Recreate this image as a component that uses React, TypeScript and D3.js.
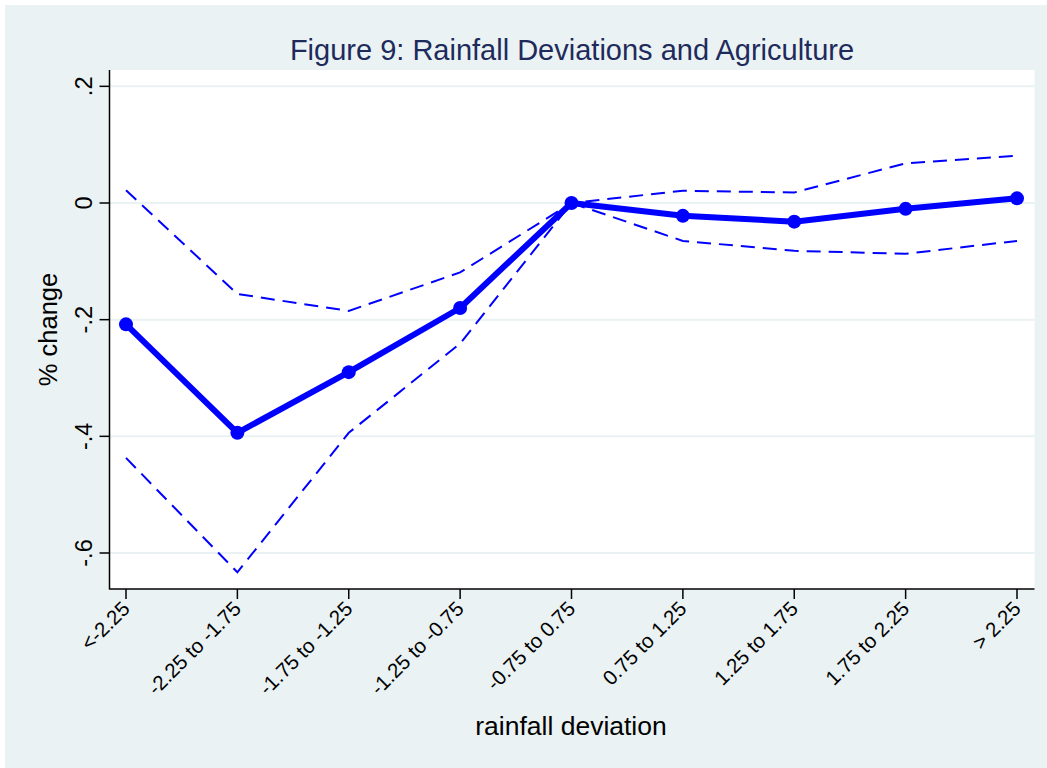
import React from "react";
import * as d3 from "d3";

const categories = [
  "<-2.25",
  "-2.25 to -1.75",
  "-1.75 to -1.25",
  "-1.25 to -0.75",
  "-0.75 to 0.75",
  "0.75 to 1.25",
  "1.25 to 1.75",
  "1.75 to 2.25",
  "> 2.25",
];
const estimate = [-0.208, -0.394, -0.29, -0.18, 0, -0.022, -0.032, -0.01, 0.008];
const upperCI = [0.022, -0.156, -0.185, -0.119, 0, 0.021, 0.018, 0.068, 0.081];
const lowerCI = [-0.437, -0.633, -0.394, -0.241, 0, -0.065, -0.082, -0.087, -0.065];
const yTicks = [0.2, 0, -0.2, -0.4, -0.6];
const yTickLabels = [".2", "0", "-.2", "-.4", "-.6"];

const W = 1047;
const H = 768;
const plot = { left: 109.5, right: 1034.5, top: 70, bottom: 589 };
const BLUE = "#0000ff";
const BG = "#eaf2f3";
const FONT = "'Liberation Sans', Arial, Helvetica, sans-serif";

export default function App() {
  const x = d3
    .scalePoint<number>()
    .domain(d3.range(categories.length))
    .range([126, 1017]);
  const y = d3.scaleLinear().domain([-0.6, 0]).range([553, 203]);
  const line = d3
    .line<number>()
    .x((_, i) => x(i) as number)
    .y((d) => y(d));

  return (
    <svg
      width={W}
      height={H}
      style={{ position: "absolute", left: 0, top: 0, display: "block" }}
    >
      <rect x={0} y={0} width={W} height={H} fill="#ffffff" />
      <rect x={5} y={5} width={W - 5} height={H - 5} fill={BG} />
      <rect
        x={plot.left}
        y={plot.top}
        width={plot.right - plot.left}
        height={plot.bottom - plot.top}
        fill="#ffffff"
      />
      {yTicks.map((t) => (
        <line
          key={"g" + t}
          x1={plot.left}
          x2={plot.right}
          y1={y(t)}
          y2={y(t)}
          stroke={BG}
          strokeWidth={2}
        />
      ))}
      {/* axes */}
      <line
        x1={plot.left}
        x2={plot.left}
        y1={plot.top}
        y2={plot.bottom + 0.5}
        stroke="#000"
        strokeWidth={1.5}
      />
      <line
        x1={plot.left}
        x2={plot.right}
        y1={plot.bottom}
        y2={plot.bottom}
        stroke="#000"
        strokeWidth={1.5}
      />
      {yTicks.map((t, i) => (
        <g key={"yt" + t}>
          <line
            x1={plot.left - 10}
            x2={plot.left}
            y1={y(t)}
            y2={y(t)}
            stroke="#000"
            strokeWidth={1.5}
          />
          <text
            transform={`translate(${plot.left - 18},${y(t)}) rotate(-90)`}
            textAnchor="middle"
            fontFamily={FONT}
            fontSize={23.5}
            fill="#000"
          >
            {yTickLabels[i]}
          </text>
        </g>
      ))}
      {categories.map((c, i) => (
        <g key={"xt" + i}>
          <line
            x1={x(i)}
            x2={x(i)}
            y1={plot.bottom}
            y2={plot.bottom + 10}
            stroke="#000"
            strokeWidth={1.5}
          />
          <text
            transform={`translate(${(x(i) as number) + 5},${plot.bottom + 21}) rotate(-45)`}
            textAnchor="end"
            fontFamily={FONT}
            fontSize={20.5}
            fill="#000"
          >
            {c}
          </text>
        </g>
      ))}
      {/* series */}
      <path
        d={line(upperCI) || ""}
        fill="none"
        stroke={BLUE}
        strokeWidth={2}
        strokeDasharray="14 8"
      />
      <path
        d={line(lowerCI) || ""}
        fill="none"
        stroke={BLUE}
        strokeWidth={2}
        strokeDasharray="14 8"
      />
      <path
        d={line(estimate) || ""}
        fill="none"
        stroke={BLUE}
        strokeWidth={6}
        strokeLinejoin="round"
      />
      {estimate.map((v, i) => (
        <circle key={"p" + i} cx={x(i)} cy={y(v)} r={7} fill={BLUE} />
      ))}
      {/* titles */}
      <text
        x={572}
        y={60}
        textAnchor="middle"
        fontFamily={FONT}
        fontSize={29}
        fill="#1e2a5c"
      >
        Figure 9: Rainfall Deviations and Agriculture
      </text>
      <text
        x={571}
        y={735}
        textAnchor="middle"
        fontFamily={FONT}
        fontSize={26.5}
        fill="#000"
      >
        rainfall deviation
      </text>
      <text
        transform={`translate(57,${(plot.top + plot.bottom) / 2}) rotate(-90)`}
        textAnchor="middle"
        fontFamily={FONT}
        fontSize={25.5}
        fill="#000"
      >
        % change
      </text>
    </svg>
  );
}
